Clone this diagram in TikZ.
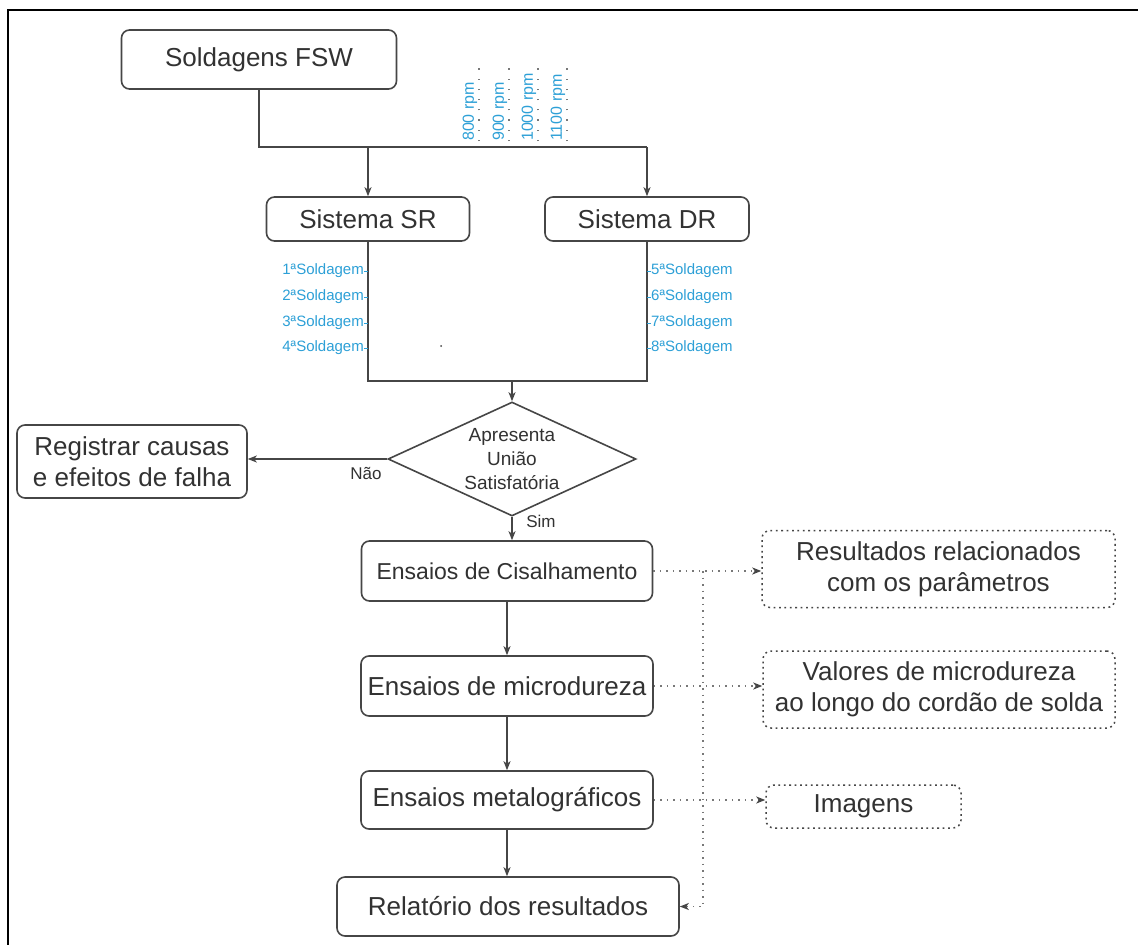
\documentclass[tikz,border=0pt]{standalone}
\usepackage{fontspec}
\setmainfont{Liberation Sans}
\usetikzlibrary{arrows.meta,shapes.geometric,calc}
\definecolor{ln}{RGB}{70,70,70}
\definecolor{tx}{RGB}{50,50,50}
\definecolor{bl}{RGB}{45,160,215}
\definecolor{dt}{RGB}{120,120,120}
\newcommand{\fsz}[2]{\fontsize{#1}{#2}\selectfont}
\begin{document}
\begin{tikzpicture}[x=1pt,y=-1pt,
  box/.style={draw=ln, line width=1.6pt, rounded corners=8pt, inner sep=0pt, text=tx, align=center, font=\fsz{26}{31}},
  dbox/.style={draw=ln, line width=1.5pt, dash pattern=on 1.8pt off 3.6pt, rounded corners=8pt, inner sep=0pt, text=tx, align=center, font=\fsz{26}{31}},
  conn/.style={draw=ln, line width=1.7pt},
  arr/.style={conn, -{Stealth[length=9pt,width=7pt,inset=2.5pt]}},
  darr/.style={draw=dt, line width=1.4pt, dash pattern=on 1.5pt off 5pt, -{Stealth[length=9pt,width=7pt,inset=2.5pt,color=ln]}},
  lbl/.style={text=bl, inner sep=0pt, font=\fsz{15}{18}},
  rpm/.style={text=bl, inner sep=0pt, font=\fsz{16}{19}, rotate=90, anchor=west},
  lead/.style={draw=dt, line width=1.2pt, dash pattern=on 1.2pt off 9pt},
  yn/.style={text=tx, inner sep=0pt, font=\fsz{17}{20}}
]
\useasboundingbox (0,0) rectangle (1138,945);
\fill[white] (0,0) rectangle (1138,945);
% outer frame
\draw[black, line width=2.4pt] (8,960) -- (8,10) -- (1150,10);

% main boxes
\node[box, minimum width=275, minimum height=59] (fsw) at (259,59.5) {Soldagens FSW};
\node[box, minimum width=203, minimum height=44] (sr) at (368,219) {Sistema SR};
\node[box, minimum width=204, minimum height=44] (dr) at (647,219) {Sistema DR};
\node[diamond, draw=ln, line width=1.6pt, minimum width=248, minimum height=114, inner sep=0pt] (dec) at (512,459) {};
\node[text=tx, align=center, inner sep=0pt, font=\fsz{19}{24}] (dect) at (dec) {Apresenta\\União\\Satisfatória};
\node[box, minimum width=230, minimum height=73] (reg) at (132,461.5) {Registrar causas\\e efeitos de falha};
\node[box, minimum width=291, minimum height=60, font=\fsz{23}{28}] (cis) at (507,571) {Ensaios de Cisalhamento};
\node[box, minimum width=292, minimum height=60] (mic) at (507,686) {Ensaios de microdureza};
\node[box, minimum width=292, minimum height=58] (met) at (507,800) {Ensaios metalográficos};
\node[box, minimum width=342, minimum height=59] (rel) at (508,906.5) {Relatório dos resultados};

% result boxes
\node[dbox, minimum width=353, minimum height=77] (res) at (938.5,569) {Resultados relacionados\\com os parâmetros};
\node[dbox, minimum width=352, minimum height=77] (val) at (939,689.5) {Valores de microdureza\\ao longo do cordão de solda};
\node[dbox, minimum width=195, minimum height=43] (img) at (863.5,806.5) {Imagens};

% top split
\coordinate (tr) at (647,147);
\coordinate (tl) at (368,147);
\draw[conn] (fsw.south) |- (tr);
\draw[arr] (tr) -- (dr.north);
\draw[arr] (tl) -- (sr.north);

% rpm labels
\node[rpm] (r1) at (470,141) {800 rpm};
\node[rpm] (r2) at (500,141) {900 rpm};
\node[rpm] (r3) at (529,141) {1000 rpm};
\node[rpm] (r4) at (558,141) {1100 rpm};
\draw[lead] (479,141) -- (479,64);
\draw[lead] (509,141) -- (509,64);
\draw[lead] (538,141) -- (538,64);
\draw[lead] (567,141) -- (567,64);

% merge
\coordinate (ml) at (368,381);
\coordinate (mm) at (512,381);
\draw[conn] (sr.south) |- (ml) -| (dr.south);
\draw[arr] (mm) -- (dec.north);

% soldagem labels
\foreach \i/\y in {1/271,2/297,3/323,4/348}{
  \node[lbl, anchor=east] (sl\i) at (364,\y) {\i ªSoldagem};
  \draw[bl, line width=1pt] (sl\i.east) -- ++(4,0);
}
\foreach \i/\y in {5/271,6/297,7/323,8/348}{
  \node[lbl, anchor=west] (sd\i) at (651,\y) {\i ªSoldagem};
  \draw[bl, line width=1pt] (sd\i.west) -- ++(-4,0);
}
\fill[ln] (441,346) circle (1pt);

% decision branches
\draw[arr] (dec.west) -- (reg.east |- dec.west);
\node[yn] (nao) at (366,473) {Não};
\draw[arr] (dec.south) -- (dec.south |- cis.north);
\node[yn] (sim) at (541,521) {Sim};

% main flow
\draw[arr] (cis.south) -- (cis.south |- mic.north);
\draw[arr] (mic.south) -- (mic.south |- met.north);
\draw[arr] (met.south) -- (met.south |- rel.north);

% dotted connectors
\coordinate (bt) at (703,571);
\draw[darr] (cis.east) -- (res.west |- cis.east);
\draw[darr] (mic.east) -- (val.west |- mic.east);
\draw[darr] (met.east) -- (img.west |- met.east);
\draw[darr] (bt) |- (rel.east);
\end{tikzpicture}
\end{document}
